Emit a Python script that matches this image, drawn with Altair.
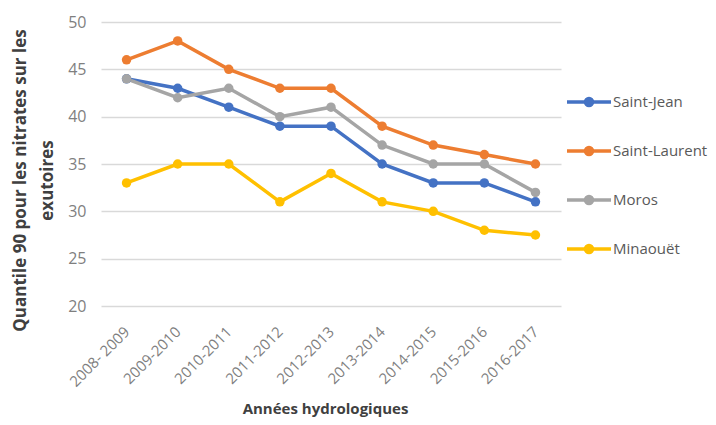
import altair as alt
import pandas as pd

years = ["2008- 2009", "2009-2010", "2010-2011", "2011-2012", "2012-2013",
         "2013-2014", "2014-2015", "2015-2016", "2016-2017"]
series = ["Saint-Jean", "Saint-Laurent", "Moros", "Minaouët"]
saint_jean = [44, 43, 41, 39, 39, 35, 33, 33, 31]
saint_laurent = [46, 48, 45, 43, 43, 39, 37, 36, 35]
moros = [44, 42, 43, 40, 41, 37, 35, 35, 32]
minaouet = [33, 35, 35, 31, 34, 31, 30, 28, 27.5]
colors = ["#4472C4", "#ED7D31", "#A5A5A5", "#FFC000"]

rows = []
for name, vals in zip(series, [saint_jean, saint_laurent, moros, minaouet]):
    for y, v in zip(years, vals):
        rows.append({"annee": y, "serie": name, "valeur": v})
df = pd.DataFrame(rows)

sym = "M-1,0H1M0.16,0A0.16,0.16 0 1,1 -0.16,0A0.16,0.16 0 1,1 0.16,0Z"

chart = alt.Chart(df).mark_line(strokeWidth=3.5, point=alt.OverlayMarkDef(size=90, filled=True, opacity=1)).encode(
    x=alt.X("annee:N", sort=years, title="Années hydrologiques",
            scale=alt.Scale(paddingInner=0, paddingOuter=0.5),
            axis=alt.Axis(labelAngle=-45, labelAlign="right", labelBaseline="middle",
                          labelPadding=23, labelFontSize=15, labelColor="#7F7F7F",
                          labelFont="Open Sans", domain=False, ticks=False, grid=False,
                          titleFont="Open Sans", titleFontSize=15, titleFontWeight="bold",
                          titleColor="#404040", titleX=224, titleY=107, titleAlign="center",
                          titleBaseline="alphabetic")),
    y=alt.Y("valeur:Q", title=["Quantile 90 pour les nitrates sur les", "exutoires"],
            scale=alt.Scale(domain=[20, 50], nice=False, zero=False),
            axis=alt.Axis(values=[20, 25, 30, 35, 40, 45, 50], labelFontSize=16,
                          labelColor="#7F7F7F", labelFont="Open Sans", labelPadding=15,
                          domain=False, ticks=False, gridColor="#D9D9D9", gridWidth=1.5,
                          titleFont="Open Sans", titleFontSize=17, titleFontWeight="bold",
                          titleColor="#404040", titleAngle=-90, titleX=-89, titleY=158,
                          titleBaseline="top", titleAlign="center", titleLineHeight=27)),
    color=alt.Color("serie:N", scale=alt.Scale(domain=series, range=colors),
                    legend=alt.Legend(title=None, orient="none", legendX=464, legendY=56,
                                      symbolType=sym, symbolSize=1936, symbolStrokeWidth=3.5,
                                      labelFontSize=15, labelColor="#595959", labelFont="Open Sans",
                                      labelOffset=0, rowPadding=14)),
).properties(
    width=460, height=284,
    background="white",
    autosize=alt.AutoSizeParams(type="none"),
    padding={"left": 93, "top": 14, "right": 147, "bottom": 111},
).configure_view(stroke="transparent", strokeWidth=0)

chart.save("out.html", embed_options={"renderer": "svg", "actions": False})
